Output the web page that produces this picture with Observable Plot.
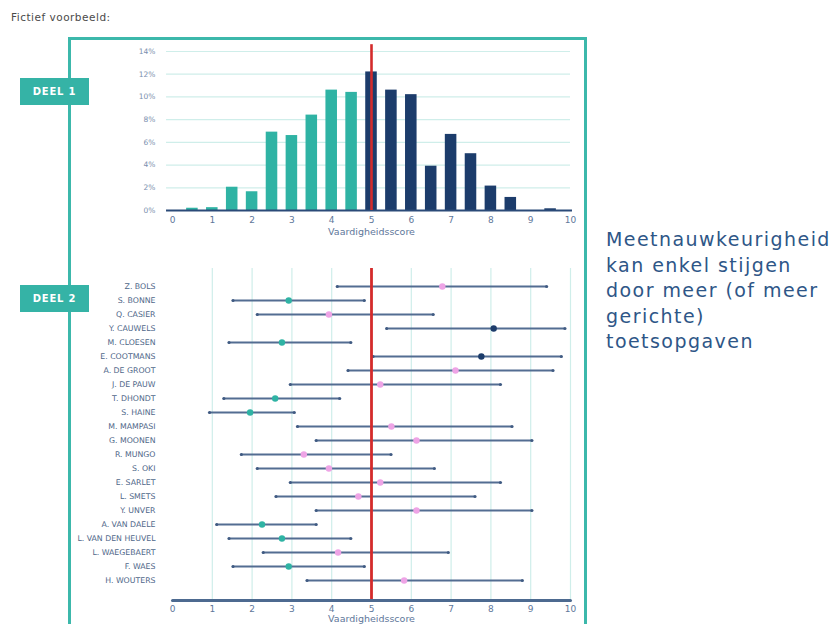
<!DOCTYPE html>
<html>
<head>
<meta charset="utf-8">
<script src="https://cdn.jsdelivr.net/npm/d3@7"></script>
<script src="https://cdn.jsdelivr.net/npm/@observablehq/plot@0.6"></script>
<style>
  body { margin: 0; background: #fff; font-family: "DejaVu Sans", sans-serif; }
  #page { position: relative; width: 832px; height: 624px; overflow: hidden; background: #fff; }
  #title { position: absolute; left: 11px; top: 11px; font-size: 10.5px; color: #4a4a4a; letter-spacing: 0.5px; }
  #frame { position: absolute; left: 68px; top: 37px; width: 519px; height: 700px; border: 3px solid #3cb8ab; box-sizing: border-box; }
  .deel { position: absolute; left: 20px; width: 69px; height: 27px; background: #35b3a6; color: #fff; font-weight: bold; font-size: 10px; line-height: 27px; text-align: center; letter-spacing: 0.8px; }
  .chart { position: absolute; left: 100px; }
  #note { position: absolute; left: 606px; top: 227px; font-size: 19px; line-height: 25.6px; color: #2e5687; letter-spacing: 1.45px; white-space: nowrap; }
</style>
</head>
<body>
<div id="page">
  <div id="title">Fictief voorbeeld:</div>
  <div id="frame"></div>
  <div class="deel" style="top:78px">DEEL 1</div>
  <div class="deel" style="top:285px">DEEL 2</div>
  <div id="top" class="chart" style="top:30px"></div>
  <div id="bottom" class="chart" style="top:260px"></div>
  <div id="note">Meetnauwkeurigheid<br>kan enkel stijgen<br>door meer (of meer<br>gerichte)<br>toetsopgaven</div>
</div>
<script>
// ---- DEEL 1: histogram ----
const scores = [0.5, 1, 1.5, 2, 2.5, 3, 3.5, 4, 4.5, 5, 5.5, 6, 6.5, 7, 7.5, 8, 8.5, 9, 9.5];
const percentages = [0.2, 0.25, 2.05, 1.65, 6.9, 6.6, 8.4, 10.6, 10.4, 12.2, 10.6, 10.2, 3.9, 6.7, 5.0, 2.15, 1.15, 0, 0.15];
const yTicks = [0, 2, 4, 6, 8, 10, 12, 14];
const xTicks = [0, 1, 2, 3, 4, 5, 6, 7, 8, 9, 10];
const cutoff = 5;

// ---- DEEL 2: interval per student ----
const names = ["Z. BOLS", "S. BONNE", "Q. CASIER", "Y. CAUWELS", "M. CLOESEN", "E. COOTMANS", "A. DE GROOT", "J. DE PAUW", "T. DHONDT", "S. HAINE", "M. MAMPASI", "G. MOONEN", "R. MUNGO", "S. OKI", "E. SARLET", "L. SMETS", "Y. UNVER", "A. VAN DAELE", "L. VAN DEN HEUVEL", "L. WAEGEBAERT", "F. WAES", "H. WOUTERS"];
const lower    = [4.14, 1.52, 2.13, 5.38, 1.42, 5.04, 4.41, 2.96, 1.29, 0.93, 3.14, 3.61, 1.73, 2.13, 2.96, 2.60, 3.61, 1.11, 1.42, 2.28, 1.52, 3.38];
const estimate = [6.78, 2.92, 3.93, 8.07, 2.75, 7.76, 7.11, 5.22, 2.58, 1.95, 5.50, 6.13, 3.30, 3.93, 5.22, 4.67, 6.13, 2.25, 2.75, 4.16, 2.92, 5.82];
const upper    = [9.40, 4.82, 6.55, 9.86, 4.48, 9.77, 9.56, 8.24, 4.20, 3.06, 8.53, 9.03, 5.49, 6.58, 8.24, 7.60, 9.03, 3.61, 4.48, 6.93, 4.82, 8.79];

const TEAL = "#2fb3a4", NAVY = "#1c3c6b", PINK = "#eea4e6", RED = "#d42b2b";
const GRID = "#cfeeea", SEG = "#536d92", TICK = "#60779a";

const bars = scores.map((s, i) => ({score: s, pct: percentages[i]}));
const people = names.map((n, i) => ({name: n, lo: lower[i], est: estimate[i], hi: upper[i]}));

const font = {fontFamily: "DejaVu Sans", background: "transparent", overflow: "visible"};

const topPlot = Plot.plot({
  width: 490, height: 215,
  marginLeft: 72, marginRight: 20, marginTop: 21, marginBottom: 35,
  x: {domain: [0, 10]},
  y: {domain: [0, 14]},
  style: font,
  marks: [
    Plot.ruleY(yTicks.filter(d => d > 0), {x1: -0.15, x2: 10, stroke: GRID, strokeWidth: 1.2}),
    Plot.rectY(bars.filter(d => d.score < cutoff), {x1: d => d.score - 0.145, x2: d => d.score + 0.145, y: "pct", fill: TEAL}),
    Plot.rectY(bars.filter(d => d.score >= cutoff), {x1: d => d.score - 0.145, x2: d => d.score + 0.145, y: "pct", fill: NAVY}),
    Plot.ruleY([0], {x1: -0.15, x2: 10.05, stroke: "#2b4a78", strokeWidth: 2}),
    Plot.ruleX([cutoff], {y1: 0, y2: 14.6, stroke: RED, strokeWidth: 2.6}),
    Plot.axisY({ticks: yTicks, tickFormat: d => d + "%", tickSize: 0, tickPadding: 17, fontSize: 7.5, fill: "#7a8fae", label: null}),
    Plot.axisX({ticks: xTicks, tickSize: 0, tickPadding: 6, fontSize: 9, fill: TICK, label: null}),
    Plot.text(["Vaardigheidsscore"], {frameAnchor: "bottom", dy: 24, fontSize: 9.5, fill: TICK})
  ]
});
document.getElementById("top").append(topPlot);

const bottomPlot = Plot.plot({
  width: 490, height: 364,
  marginLeft: 72, marginRight: 20, marginTop: 8, marginBottom: 24,
  x: {domain: [0, 10]},
  y: {type: "point", domain: names, range: [22, 324], padding: 0},
  style: font,
  marks: [
    Plot.ruleX(xTicks.filter(d => d > 0), {stroke: GRID, strokeWidth: 1.2}),
    Plot.ruleY(people, {y: "name", x1: "lo", x2: "hi", stroke: SEG, strokeWidth: 2}),
    Plot.dot(people, {x: "lo", y: "name", r: 1.6, fill: "#3f5a82"}),
    Plot.dot(people, {x: "hi", y: "name", r: 1.6, fill: "#3f5a82"}),
    Plot.dot(people.filter(d => d.hi < cutoff), {x: "est", y: "name", r: 3.2, fill: TEAL}),
    Plot.dot(people.filter(d => d.lo > cutoff), {x: "est", y: "name", r: 3.2, fill: NAVY}),
    Plot.dot(people.filter(d => d.lo <= cutoff && d.hi >= cutoff), {x: "est", y: "name", r: 3.2, fill: PINK}),
    Plot.ruleX([cutoff], {stroke: RED, strokeWidth: 2.8}),
    Plot.frame({anchor: "bottom", stroke: "#4d6a90", strokeWidth: 3, strokeLinecap: "round"}),
    Plot.axisY({tickSize: 0, tickPadding: 17, fontSize: 7.8, fill: "#4f6789", label: null}),
    Plot.axisX({ticks: xTicks, tickSize: 0, tickPadding: 5, fontSize: 9, fill: TICK, label: null}),
    Plot.text(["Vaardigheidsscore"], {frameAnchor: "bottom", dy: 21, fontSize: 9.5, fill: TICK})
  ]
});
document.getElementById("bottom").append(bottomPlot);
</script>
</body>
</html>
